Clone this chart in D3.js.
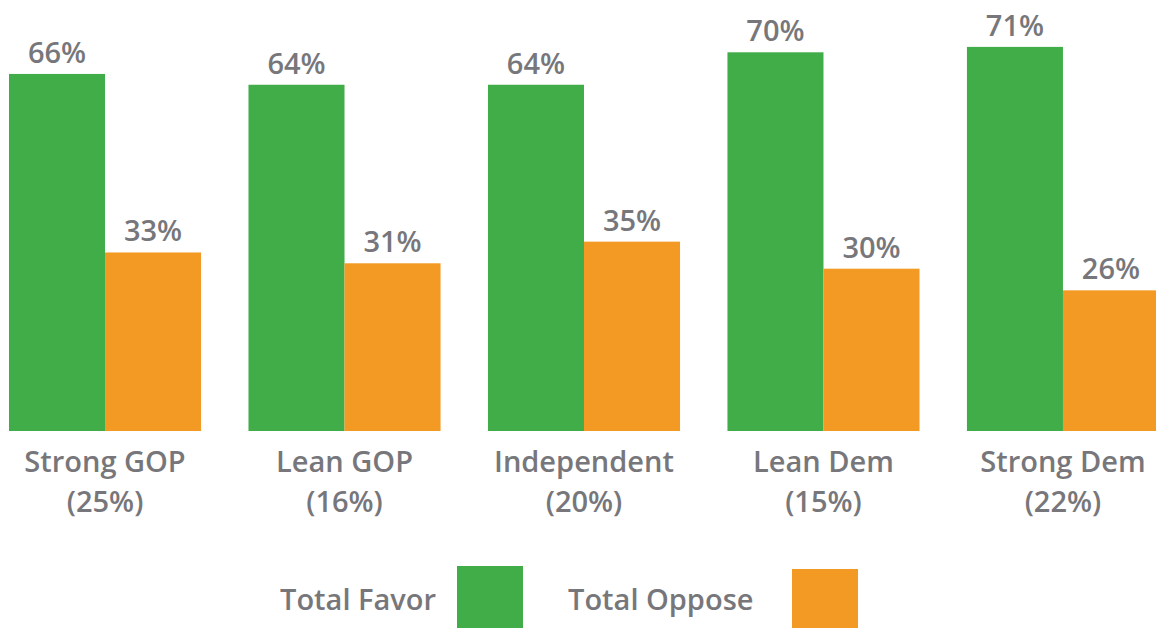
<!DOCTYPE html>
<html>
<head>
<meta charset="utf-8">
<script src="https://cdn.jsdelivr.net/npm/d3@7"></script>
<style>
  body { margin: 0; background: #fff; }
  text { font-family: "Open Sans", sans-serif; font-weight: 600; fill: #77777b; }
</style>
</head>
<body>
<div id="chart"></div>
<script>
// chart data
const categories = ["Strong GOP", "Lean GOP", "Independent", "Lean Dem", "Strong Dem"];
const shares = ["(25%)", "(16%)", "(20%)", "(15%)", "(22%)"];
const series = ["Total Favor", "Total Oppose"];
const favor = [66, 64, 64, 70, 71];
const oppose = [33, 31, 35, 30, 26];
const colors = ["#41ad49", "#f39a24"];

const width = 1156, height = 629;
const baseline = 431;

const svg = d3.select("#chart")
    .append("svg")
    .attr("width", width)
    .attr("height", height);

const x0 = d3.scaleBand()
    .domain(categories)
    .range([9, 1159])
    .paddingInner(0.198)
    .paddingOuter(0);

const x1 = d3.scaleBand()
    .domain(series)
    .range([0, x0.bandwidth()]);

const y = d3.scaleLinear()
    .domain([0, 100])
    .range([baseline, baseline - 541]);

const rows = categories.map((c, i) => ({
    cat: c,
    share: shares[i],
    values: [favor[i], oppose[i]]
}));

const groups = svg.selectAll("g.group")
    .data(rows)
    .enter().append("g")
    .attr("class", "group")
    .attr("transform", d => "translate(" + x0(d.cat) + ",0)");

const bars = groups.selectAll("g.bar")
    .data(d => d.values.map((v, j) => ({ s: series[j], v: v, j: j })))
    .enter().append("g")
    .attr("class", "bar");

bars.append("rect")
    .attr("x", d => x1(d.s))
    .attr("y", d => y(d.v))
    .attr("width", x1.bandwidth())
    .attr("height", d => baseline - y(d.v))
    .attr("fill", d => colors[d.j]);

bars.append("text")
    .attr("x", d => x1(d.s) + x1.bandwidth() / 2)
    .attr("y", d => y(d.v) - 11)
    .attr("text-anchor", "middle")
    .style("font-size", "29px")
    .text(d => d.v + "%");

// category labels
groups.append("text")
    .attr("x", x0.bandwidth() / 2)
    .attr("y", 472)
    .attr("text-anchor", "middle")
    .style("font-size", "29px")
    .text(d => d.cat);

groups.append("text")
    .attr("x", x0.bandwidth() / 2)
    .attr("y", 512)
    .attr("text-anchor", "middle")
    .style("font-size", "29px")
    .text(d => d.share);

// legend
const legendX = [280, 568];
const legend = svg.selectAll("g.legend")
    .data(series)
    .enter().append("g")
    .attr("class", "legend")
    .attr("transform", (d, i) => "translate(" + legendX[i] + ",0)");

legend.append("text")
    .attr("x", 0)
    .attr("y", 610)
    .style("font-size", "29px")
    .text(d => d);

legend.append("rect")
    .attr("x", (d, i) => i === 0 ? 177 : 224)
    .attr("y", (d, i) => i === 0 ? 566 : 569)
    .attr("width", 66)
    .attr("height", (d, i) => i === 0 ? 62 : 59)
    .attr("fill", (d, i) => colors[i]);
</script>
</body>
</html>
